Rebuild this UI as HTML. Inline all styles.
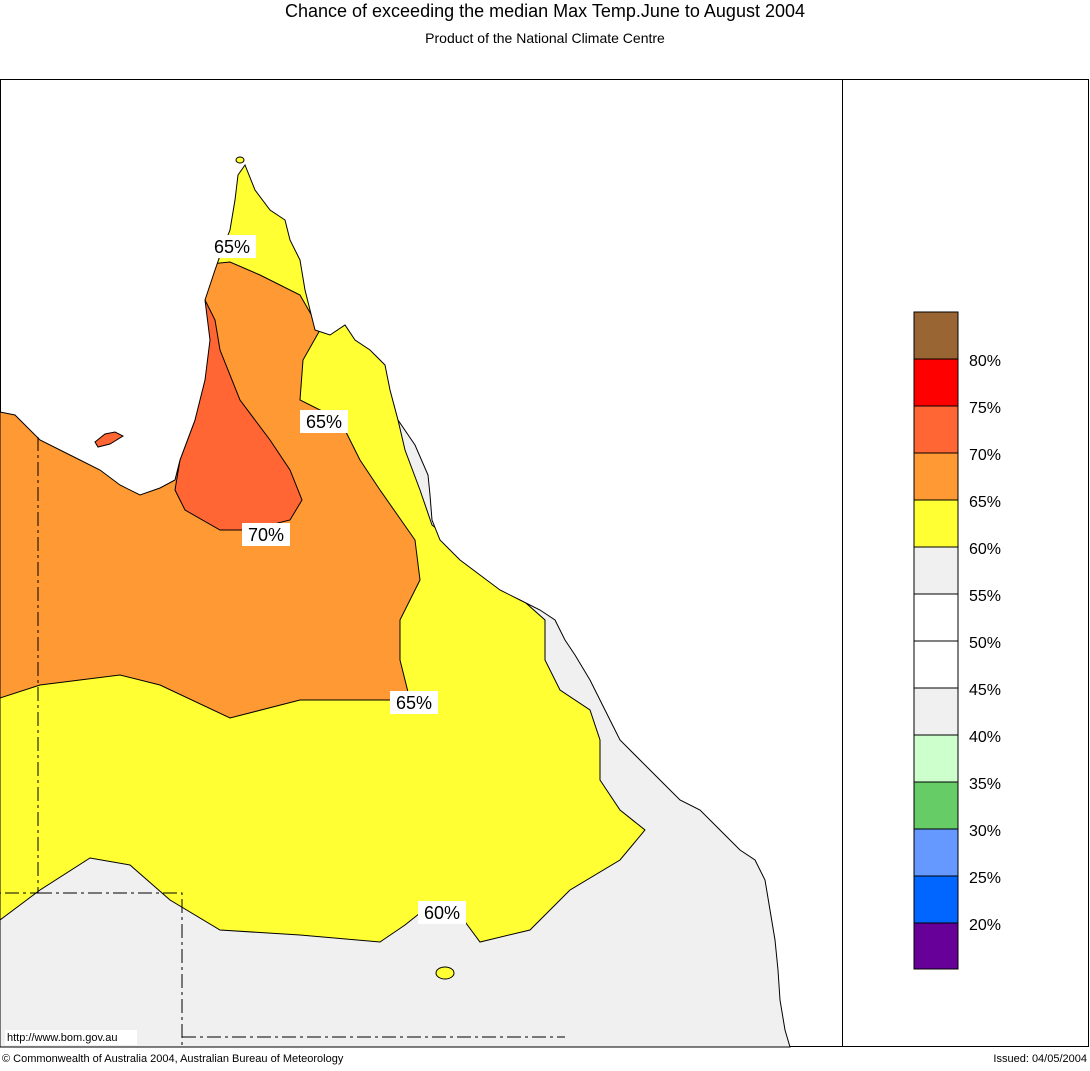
<!DOCTYPE html>
<html><head><meta charset="utf-8"><style>
body{margin:0;background:#fff;width:1090px;height:1066px;overflow:hidden;font-family:"Liberation Sans",sans-serif}
</style></head><body>
<svg width="1090" height="1066" xmlns="http://www.w3.org/2000/svg" font-family="Liberation Sans, sans-serif">
<defs>
<clipPath id="land"><path id="lp" d="M0,412 L15,415 L40,440 L70,455 L100,470 L120,485 L140,495 L160,488 L175,480 L180,460 L195,420 L205,380 L210,340 L205,300 L215,270 L222,250 L230,230 L235,200 L238,175 L245,165 L255,190 L270,210 L285,220 L290,240 L300,260 L305,290 L315,330 L330,335 L345,325 L355,340 L370,350 L385,365 L390,390 L398,420 L415,445 L428,475 L430,495 L432,520 L440,540 L460,560 L480,575 L500,590 L520,600 L540,610 L555,620 L565,640 L575,655 L590,680 L600,700 L610,720 L620,740 L640,760 L660,780 L680,800 L700,810 L720,830 L740,850 L755,860 L765,880 L770,910 L775,940 L778,970 L780,1000 L785,1030 L790,1047 L0,1047 Z"/></clipPath>
</defs>
<text x="545" y="17" font-size="18" text-anchor="middle">Chance of exceeding the median Max Temp.June to August 2004</text>
<text x="545" y="43" font-size="14" text-anchor="middle">Product of the National Climate Centre</text>
<rect x="0.5" y="79.5" width="1088" height="967" fill="none" stroke="#000"/>
<line x1="842.5" y1="79" x2="842.5" y2="1047" stroke="#000"/>
<g clip-path="url(#land)">
<rect x="0" y="79" width="842" height="968" fill="#f0f0f0"/>
<path d="M0,79 L400,79 L400,400 L398,420 L405,450 L420,490 L432,525 L500,580 L545,620 L545,660 L560,690 L590,710 L600,740 L600,780 L620,810 L645,830 L620,860 L570,890 L530,930 L480,942 L460,915 L430,905 L405,925 L380,942 L300,935 L220,930 L170,900 L130,865 L90,858 L40,890 L0,920 Z" fill="#ffff33" stroke="#000"/>
<path d="M0,300 L200,265 L230,262 L260,275 L300,295 L320,330 L303,360 L300,400 L340,420 L360,460 L380,490 L415,540 L420,580 L400,620 L400,660 L410,700 L300,700 L230,718 L160,685 L120,675 L40,685 L0,698 Z" fill="#ff9933" stroke="#000"/>
<path d="M205,300 L215,320 L220,350 L240,400 L270,440 L290,470 L302,500 L290,520 L250,530 L220,530 L185,510 L175,490 L180,460 L195,420 L200,380 L200,330 Z" fill="#ff6633" stroke="#000"/>
</g>
<use href="#lp" fill="none" stroke="#000" stroke-width="1"/>
<path d="M95,442 L105,434 L115,432 L123,436 L110,444 L98,447 Z" fill="#ff6633" stroke="#000"/>
<ellipse cx="445" cy="973" rx="9" ry="6" fill="#ffff33" stroke="#000"/>
<ellipse cx="240" cy="160" rx="4" ry="3" fill="#ffff33" stroke="#000"/>
<g stroke="#000" stroke-dasharray="14,4,3,4" fill="none">
<path d="M38,437 L38,893 L0,893"/><path d="M38,893 L182,893 L182,1047"/><path d="M182,1037 L565,1037"/>
</g>
<g font-size="18">
<rect x="208" y="235" width="48" height="23" fill="#fff"/><text x="232" y="253" text-anchor="middle">65%</text>
<rect x="300" y="410" width="48" height="23" fill="#fff"/><text x="324" y="428" text-anchor="middle">65%</text>
<rect x="242" y="523" width="48" height="23" fill="#fff"/><text x="266" y="541" text-anchor="middle">70%</text>
<rect x="390" y="691" width="48" height="23" fill="#fff"/><text x="414" y="709" text-anchor="middle">65%</text>
<rect x="418" y="901" width="48" height="23" fill="#fff"/><text x="442" y="919" text-anchor="middle">60%</text>
</g>
<rect x="5" y="1030" width="132" height="15" fill="#fff"/>
<text x="7" y="1041" font-size="11">http://www.bom.gov.au</text>
<g stroke="#000">
<rect x="914" y="312" width="44" height="47" fill="#996633"/>
<rect x="914" y="359" width="44" height="47" fill="#ff0000"/>
<rect x="914" y="406" width="44" height="47" fill="#ff6633"/>
<rect x="914" y="453" width="44" height="47" fill="#ff9933"/>
<rect x="914" y="500" width="44" height="47" fill="#ffff33"/>
<rect x="914" y="547" width="44" height="47" fill="#f0f0f0"/>
<rect x="914" y="594" width="44" height="47" fill="#ffffff"/>
<rect x="914" y="641" width="44" height="47" fill="#ffffff"/>
<rect x="914" y="688" width="44" height="47" fill="#f0f0f0"/>
<rect x="914" y="735" width="44" height="47" fill="#ccffcc"/>
<rect x="914" y="782" width="44" height="47" fill="#66cc66"/>
<rect x="914" y="829" width="44" height="47" fill="#6699ff"/>
<rect x="914" y="876" width="44" height="47" fill="#0066ff"/>
<rect x="914" y="923" width="44" height="46" fill="#660099"/>
</g>
<g font-size="16">
<text x="969" y="366">80%</text><text x="969" y="413">75%</text><text x="969" y="460">70%</text>
<text x="969" y="507">65%</text><text x="969" y="554">60%</text><text x="969" y="601">55%</text>
<text x="969" y="648">50%</text><text x="969" y="695">45%</text><text x="969" y="742">40%</text>
<text x="969" y="789">35%</text><text x="969" y="836">30%</text><text x="969" y="883">25%</text>
<text x="969" y="930">20%</text>
</g>
<text x="2" y="1062" font-size="11">© Commonwealth of Australia 2004, Australian Bureau of Meteorology</text>
<text x="1087" y="1062" font-size="11" text-anchor="end">Issued: 04/05/2004</text>
</svg>
</body></html>
